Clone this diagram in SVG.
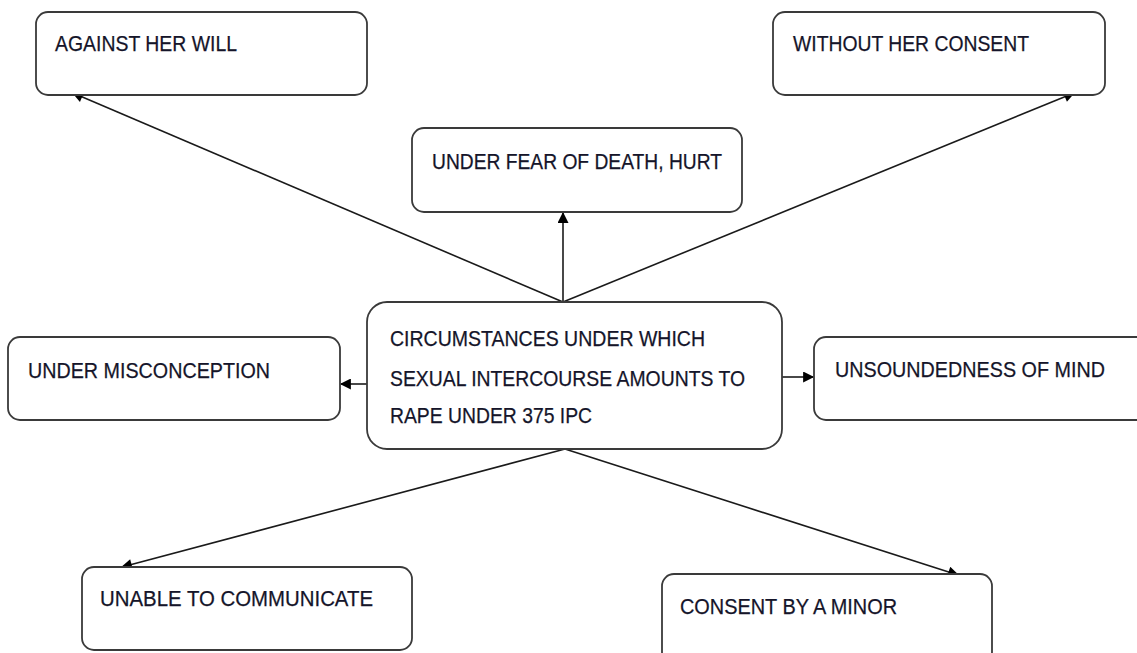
<svg xmlns="http://www.w3.org/2000/svg" width="1137" height="653" viewBox="0 0 1137 653">
  <style>
    .box { fill: #ffffff; stroke: #3a3a3a; stroke-width: 1.8; }
    .lbl { font-family: "Liberation Sans", Arial, sans-serif; font-size: 22px; fill: #15152a; stroke: #15152a; stroke-width: 0.25; }
    .edge { stroke: #1a1a1a; stroke-width: 1.6; fill: none; marker-end: url(#arrow); }
  </style>
  <defs>
    <marker id="arrow" viewBox="0 0 10 10" refX="9" refY="5" markerWidth="14" markerHeight="11" markerUnits="userSpaceOnUse" orient="auto">
      <path d="M0,0 L10,5 L0,10 z" fill="#000000"/>
    </marker>
  </defs>
  <rect width="1137" height="653" fill="#ffffff"/>

  <g id="connectors">
    <line class="edge" x1="563" y1="302" x2="73" y2="93"/>
    <line class="edge" x1="563" y1="302" x2="1074" y2="93"/>
    <line class="edge" x1="563" y1="302" x2="563" y2="213"/>
    <line class="edge" x1="367" y1="384" x2="341" y2="384"/>
    <line class="edge" x1="782" y1="377" x2="813" y2="377"/>
    <line class="edge" x1="565" y1="449" x2="122" y2="567"/>
    <line class="edge" x1="565" y1="449" x2="958" y2="575"/>
  </g>

  <g id="node-against">
    <rect class="box" x="36" y="12" width="331" height="83" rx="12"/>
    <text class="lbl" x="55" y="51" textLength="182" lengthAdjust="spacingAndGlyphs">AGAINST HER WILL</text>
  </g>

  <g id="node-without-consent">
    <rect class="box" x="773" y="12" width="332" height="83" rx="12"/>
    <text class="lbl" x="793" y="51" textLength="236" lengthAdjust="spacingAndGlyphs">WITHOUT HER CONSENT</text>
  </g>

  <g id="node-fear">
    <rect class="box" x="412" y="128" width="330" height="84" rx="12"/>
    <text class="lbl" x="432" y="169" textLength="290" lengthAdjust="spacingAndGlyphs">UNDER FEAR OF DEATH, HURT</text>
  </g>

  <g id="node-center">
    <rect class="box" x="367" y="302" width="415" height="147" rx="20"/>
    <text class="lbl" x="390" y="346" textLength="315" lengthAdjust="spacingAndGlyphs">CIRCUMSTANCES UNDER WHICH</text>
    <text class="lbl" x="390" y="386" textLength="355" lengthAdjust="spacingAndGlyphs">SEXUAL INTERCOURSE AMOUNTS TO</text>
    <text class="lbl" x="390" y="423" textLength="202" lengthAdjust="spacingAndGlyphs">RAPE UNDER 375  IPC</text>
  </g>

  <g id="node-misconception">
    <rect class="box" x="8" y="337" width="332" height="83" rx="12"/>
    <text class="lbl" x="28" y="378" textLength="242" lengthAdjust="spacingAndGlyphs">UNDER MISCONCEPTION</text>
  </g>

  <g id="node-unsoundness">
    <rect class="box" x="814" y="337" width="340" height="83" rx="12"/>
    <text class="lbl" x="835" y="377" textLength="270" lengthAdjust="spacingAndGlyphs">UNSOUNDEDNESS OF MIND</text>
  </g>

  <g id="node-communicate">
    <rect class="box" x="82" y="567" width="330" height="83" rx="12"/>
    <text class="lbl" x="100" y="606" textLength="273" lengthAdjust="spacingAndGlyphs">UNABLE TO COMMUNICATE</text>
  </g>

  <g id="node-minor">
    <rect class="box" x="662" y="574" width="330" height="90" rx="12"/>
    <text class="lbl" x="680" y="614" textLength="217" lengthAdjust="spacingAndGlyphs">CONSENT BY A MINOR</text>
  </g>
</svg>
